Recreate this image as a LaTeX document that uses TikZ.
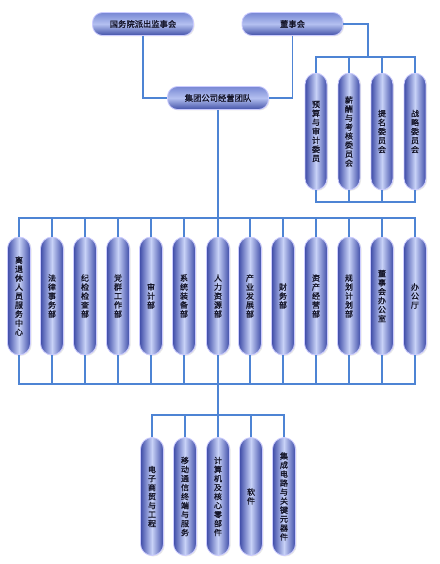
\documentclass[tikz,border=0pt]{standalone}
\usepackage{fontspec}
\newfontfamily\cjk{Noto Sans CJK SC}[FakeBold=1.2]
\usetikzlibrary{shadows}
\definecolor{linec}{RGB}{78,132,212}
\definecolor{pdark}{RGB}{62,76,168}
\definecolor{plight}{RGB}{200,210,247}
\definecolor{bmid}{RGB}{180,192,240}
\definecolor{btop}{RGB}{120,136,212}
\definecolor{bbot}{RGB}{66,82,168}
\definecolor{txt}{RGB}{20,20,40}
\tikzset{
  conn/.style={draw=linec, line width=1.8pt},
  hbox/.style={rounded corners=10pt, minimum width=101pt, minimum height=23pt, inner sep=0pt,
    top color=btop, bottom color=bbot, middle color=bmid, draw=white!80!blue, line width=0.8pt,
    drop shadow={opacity=0.18, shadow xshift=1pt, shadow yshift=-1pt},
    font=\cjk\fontsize{8.3}{9}\selectfont, text=txt},
  pill/.style={rounded corners=11.5pt, minimum width=23pt, inner sep=0pt,
    left color=pdark, right color=pdark, middle color=plight, draw=white!80!blue, line width=0.8pt,
    drop shadow={opacity=0.18, shadow xshift=1.2pt, shadow yshift=-1pt},
    align=center, font=\cjk\fontsize{8}{9}\selectfont, text=txt},
  dept/.style={pill, minimum height=118pt},
  comm/.style={pill, minimum height=117pt, minimum width=22pt}
}
\begin{document}
\begin{tikzpicture}[x=1pt,y=-1pt]
\useasboundingbox (0,0) rectangle (439,564);
% top boxes
\node[hbox] (g) at (143,24) {国务院派出监事会};
\node[hbox] (d) at (292.5,24) {董事会};
\node[hbox] (j) at (218,98) {集团公司经营团队};
% committees
\node[comm] (c1) at (316,131.5) {预\\算\\与\\审\\计\\委\\员};
\node[comm] (c2) at (349,131.5) {薪\\酬\\与\\考\\核\\委\\员\\会};
\node[comm] (c3) at (382,131.5) {提\\名\\委\\员\\会};
\node[comm] (c4) at (415,131.5) {战\\略\\委\\员\\会};
% departments
\node[dept] (p1) at (19,296) {离\\退\\休\\人\\员\\服\\务\\中\\心};
\node[dept] (p2) at (52,296) {法\\律\\事\\务\\部};
\node[dept] (p3) at (85,296) {纪\\检\\检\\查\\部};
\node[dept] (p4) at (118,296) {党\\群\\工\\作\\部};
\node[dept] (p5) at (151,296) {审\\计\\部};
\node[dept] (p6) at (184,296) {系\\统\\装\\备\\部};
\node[dept] (p7) at (218,296) {人\\力\\资\\源\\部};
\node[dept] (p8) at (250,296) {产\\业\\发\\展\\部};
\node[dept] (p9) at (283,296) {财\\务\\部};
\node[dept] (p10) at (316,296) {资\\产\\经\\营\\部};
\node[dept] (p11) at (349,296) {规\\划\\计\\划\\部};
\node[dept] (p12) at (382,296) {董\\事\\会\\办\\公\\室};
\node[dept] (p13) at (415,296) {办\\公\\厅};
% bottom group
\node[dept] (q1) at (152,496.5) {电\\子\\商\\贸\\与\\工\\程};
\node[dept] (q2) at (185,496.5) {移\\动\\通\\信\\终\\端\\与\\服\\务};
\node[dept] (q3) at (218,496.5) {计\\算\\机\\及\\核\\心\\零\\部\\件};
\node[dept] (q4) at (251,496.5) {软\\件};
\node[dept] (q5) at (284,496.5) {集\\成\\电\\路\\与\\关\\键\\元\\器\\件};
% bar coordinates
\coordinate (cb) at (368,57);
\coordinate (cbb) at (0,202);
\coordinate (tb) at (0,218);
\coordinate (bb) at (0,384);
\coordinate (gb) at (0,415);
% top connections
\draw[conn] (g) |- (j);
\draw[conn] (d) |- (j);
\draw[conn] (d.east) -| (cb);
\draw[conn] (c1.north) |- (cb) -| (c4.north);
\draw[conn] (c2.north) -- (c2.north|-cb);
\draw[conn] (c3.north) -- (c3.north|-cb);
\draw[conn] (c1.south) -- (c1.south|-cbb) -- (c4.south|-cbb) -- (c4.south);
\draw[conn] (c2.south) -- (c2.south|-cbb);
\draw[conn] (c3.south) -- (c3.south|-cbb);
% main trunk
\draw[conn] (j.south) -- (j.south|-tb);
\draw[conn] (p1.north) -- (p1.north|-tb) -- (p13.north|-tb) -- (p13.north);
\draw[conn] (p1.south) -- (p1.south|-bb) -- (p13.south|-bb) -- (p13.south);
\foreach \i in {2,...,12}{
  \draw[conn] (p\i.north) -- (p\i.north|-tb);
  \draw[conn] (p\i.south) -- (p\i.south|-bb);
}
\draw[conn] (p7.south|-bb) -- (q3.north|-gb);
\draw[conn] (q1.north) -- (q1.north|-gb) -- (q5.north|-gb) -- (q5.north);
\foreach \i in {2,3,4}{
  \draw[conn] (q\i.north) -- (q\i.north|-gb);
}
\end{tikzpicture}
\end{document}
